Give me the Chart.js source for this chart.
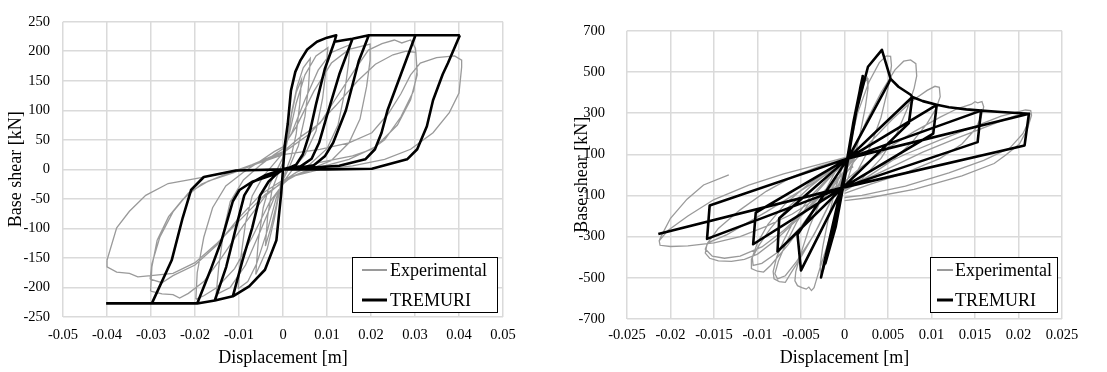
<!DOCTYPE html>
<html><head><meta charset="utf-8">
<script src="https://cdn.jsdelivr.net/npm/chart.js@4.4.1/dist/chart.umd.min.js"></script>
<style>
html,body{margin:0;padding:0;background:#fff;width:1107px;height:372px;overflow:hidden}
#c1{position:absolute;left:0;top:0}
#c2{position:absolute;left:560px;top:0}
</style></head><body>
<canvas id="c1" width="560" height="372"></canvas>
<canvas id="c2" width="547" height="372"></canvas>
<script>
// ---------- DATA ----------
const seriesNames = ['Experimental', 'TREMURI'];
const xTitle = 'Displacement [m]';
const yTitle = 'Base shear [kN]';

const leftXTicks = [-0.05,-0.04,-0.03,-0.02,-0.01,0,0.01,0.02,0.03,0.04,0.05];
const leftYTicks = [-250,-200,-150,-100,-50,0,50,100,150,200,250];
const rightXTicks = [-0.025,-0.02,-0.015,-0.01,-0.005,0,0.005,0.01,0.015,0.02,0.025];
const rightYTicks = [-700,-500,-300,-100,100,300,500,700];

// Left panel – experimental cycles [displacement m, base shear kN]
const leftExpCycle1 = [[-0.004,-130],[-0.0035,-80],[-0.0025,-35],[-0.001,-5],[0,12],[0.001,48],[0.002,95],[0.003,130],[0.0042,152],[0.0038,110],[0.003,60],[0.0018,20],[0.0005,-5],[-0.0005,-25],[-0.0015,-60],[-0.0028,-100],[-0.004,-130]];
const leftExpCycle2 = [[-0.0062,-178],[-0.0056,-120],[-0.0045,-65],[-0.003,-25],[-0.001,5],[0,20],[0.001,52],[0.002,98],[0.0032,140],[0.0046,172],[0.0062,188],[0.0058,140],[0.005,90],[0.0035,40],[0.0015,5],[0,-18],[-0.001,-45],[-0.002,-85],[-0.0036,-135],[-0.0062,-178]];
const leftExpCycle3 = [[-0.0102,-202],[-0.0096,-150],[-0.0085,-90],[-0.007,-45],[-0.0045,-12],[-0.002,10],[0,28],[0.0015,62],[0.003,112],[0.005,160],[0.0075,192],[0.0102,206],[0.0098,170],[0.009,120],[0.0075,65],[0.005,25],[0.002,-2],[0,-22],[-0.0015,-48],[-0.0035,-102],[-0.006,-160],[-0.008,-190],[-0.0102,-202]];
const leftExpCycle4 = [[-0.0152,-212],[-0.0146,-165],[-0.0135,-105],[-0.012,-55],[-0.009,-18],[-0.005,8],[-0.002,25],[0,35],[0.002,62],[0.005,118],[0.008,168],[0.011,198],[0.0152,211],[0.0149,180],[0.014,130],[0.0125,75],[0.01,35],[0.006,8],[0.002,-10],[0,-25],[-0.002,-48],[-0.005,-102],[-0.0085,-162],[-0.012,-200],[-0.0152,-212]];
const leftExpCycle5 = [[-0.0198,-220],[-0.0195,-175],[-0.018,-115],[-0.016,-65],[-0.013,-28],[-0.009,-5],[-0.005,15],[-0.002,30],[0,38],[0.003,72],[0.007,132],[0.011,180],[0.015,203],[0.0198,212],[0.0198,185],[0.019,140],[0.0175,85],[0.015,45],[0.011,15],[0.006,0],[0.002,-12],[0,-25],[-0.003,-55],[-0.007,-115],[-0.011,-168],[-0.015,-200],[-0.018,-214],[-0.0198,-220]];
const leftExpCycle6 = [[-0.0301,-206],[-0.0298,-165],[-0.0286,-120],[-0.026,-80],[-0.0227,-50],[-0.0185,-25],[-0.013,-8],[-0.007,8],[0,30],[0.004,55],[0.0084,78],[0.012,120],[0.016,165],[0.0194,202],[0.0225,213],[0.0253,219],[0.027,214],[0.029,219],[0.0301,205],[0.0305,167],[0.0297,133],[0.0268,89],[0.0231,50],[0.0202,34],[0.0158,23],[0.0084,12],[0.003,-5],[0,-20],[-0.004,-45],[-0.009,-95],[-0.014,-150],[-0.018,-190],[-0.0215,-210],[-0.0235,-218],[-0.025,-212],[-0.0275,-211],[-0.0301,-206]];
const leftExpCycle7 = [[-0.0302,-186],[-0.0298,-160],[-0.028,-115],[-0.025,-72],[-0.0215,-40],[-0.017,-20],[-0.011,-5],[-0.005,12],[0,28],[0.006,60],[0.012,108],[0.017,150],[0.021,178],[0.025,194],[0.028,200],[0.0302,198],[0.0305,160],[0.029,118],[0.026,75],[0.021,38],[0.015,17],[0.008,3],[0.002,-12],[0,-18],[-0.005,-42],[-0.01,-82],[-0.015,-128],[-0.02,-162],[-0.025,-180],[-0.0275,-192],[-0.0302,-186]];
const leftExpCycle8 = [[-0.04,-154],[-0.0378,-99],[-0.0349,-71],[-0.0312,-44],[-0.0261,-24],[-0.018,-13],[-0.011,-2],[-0.005,12],[0,25],[0.0084,34],[0.015,45],[0.0202,62],[0.024,95],[0.0268,128],[0.029,160],[0.0312,180],[0.0349,189],[0.039,192],[0.0406,185],[0.0406,173],[0.04,129],[0.0378,96],[0.0341,62],[0.029,34],[0.0231,17],[0.0158,6],[0.0085,0],[0.003,-10],[0,-22],[-0.004,-42],[-0.009,-80],[-0.015,-125],[-0.02,-158],[-0.025,-176],[-0.03,-180],[-0.033,-182],[-0.0349,-176],[-0.0378,-174],[-0.04,-165],[-0.04,-154]];

// Left panel – TREMURI branches
const leftTremPosEnvelope = [[0,0],[0.0004,40],[0.0011,78],[0.0018,133],[0.0028,165],[0.004,185],[0.0055,203],[0.0077,216],[0.01,223],[0.0121,227],[0.0117,216],[0.014,219],[0.0158,221],[0.0195,227],[0.0301,227],[0.0402,227]];
const leftTremUnload1 = [[0.0117,216],[0.0095,170],[0.0075,110],[0.006,60],[0.0045,25],[0.003,8],[0.0015,3],[0,0]];
const leftTremUnload2 = [[0.0158,221],[0.0128,161],[0.0099,89],[0.0082,45],[0.0065,18],[0.004,5],[0,0]];
const leftTremUnload3 = [[0.0195,227],[0.0172,183],[0.0143,100],[0.0114,45],[0.0095,22],[0.007,7],[0.003,2],[0,0]];
const leftTremUnload4 = [[0.0301,227],[0.0268,161],[0.0238,101],[0.0224,62],[0.0209,34],[0.0187,17],[0.0128,6],[0.005,2],[0,0]];
const leftTremUnload5 = [[0.0402,227],[0.0375,180],[0.0363,161],[0.0341,117],[0.0327,73],[0.0305,34],[0.0282,17],[0.0202,1],[0.01,0],[0,0]];
const leftTremNegEnvelope = [[0,0],[-0.0004,-40],[-0.0015,-120],[-0.0041,-170],[-0.0077,-198],[-0.0114,-215],[-0.0155,-222],[-0.0195,-227],[-0.0298,-227],[-0.0402,-227]];
const leftTremNeg1 = [[-0.0298,-227],[-0.0253,-154],[-0.0228,-82],[-0.0209,-35],[-0.018,-13],[-0.0107,-2],[0,0]];
const leftTremNeg2 = [[-0.0195,-227],[-0.0165,-171],[-0.014,-121],[-0.0114,-54],[-0.0099,-35],[-0.007,-21],[-0.0026,-10],[0,0]];
const leftTremNeg3 = [[-0.0155,-222],[-0.0129,-165],[-0.0107,-99],[-0.0088,-44],[-0.007,-22],[-0.004,-10],[0,0]];
const leftTremNeg4 = [[-0.0114,-215],[-0.0092,-154],[-0.007,-99],[-0.0052,-44],[-0.0033,-21],[-0.0015,-8],[0,0]];

// Right panel – experimental cycles
const rightExpPos1 = [[-0.0003,-40],[0.0005,100],[0.0012,260],[0.0018,380],[0.0023,450],[0.0026,470],[0.0027,420],[0.0024,330],[0.0018,200],[0.001,60],[0.0003,-30],[-0.0003,-40]];
const rightExpPos2 = [[-0.0005,-50],[0.0005,120],[0.0015,300],[0.0028,450],[0.004,545],[0.0048,578],[0.0053,575],[0.0054,530],[0.005,420],[0.0042,280],[0.003,140],[0.0015,20],[0,-60]];
const rightExpPos3 = [[-0.0005,-55],[0.001,110],[0.0025,260],[0.0042,400],[0.0058,510],[0.0068,552],[0.0076,558],[0.0082,540],[0.0083,480],[0.008,420],[0.0072,320],[0.006,200],[0.0042,80],[0.002,-20],[0,-70]];
const rightExpPos4 = [[-0.0008,-60],[0.001,60],[0.003,160],[0.0055,270],[0.0078,360],[0.0095,410],[0.0104,430],[0.0109,425],[0.011,380],[0.0105,320],[0.0095,250],[0.0078,160],[0.0055,70],[0.003,0],[0,-80]];
const rightExpPos5 = [[-0.001,-70],[0.002,40],[0.005,130],[0.008,210],[0.011,280],[0.013,322],[0.0146,343],[0.015,355],[0.0153,350],[0.0158,356],[0.016,330],[0.0157,280],[0.015,220],[0.0135,150],[0.011,80],[0.007,10],[0.003,-45],[0,-90]];
const rightExpPos6 = [[-0.001,-80],[0.003,20],[0.007,100],[0.011,170],[0.015,235],[0.018,285],[0.0198,305],[0.0208,315],[0.0214,312],[0.0215,290],[0.021,220],[0.0201,150],[0.0185,95],[0.0172,55],[0.0135,-5],[0.008,-70],[0.003,-110],[0,-125]];
const rightExpPos7 = [[-0.001,-90],[0.004,10],[0.009,110],[0.013,180],[0.017,245],[0.0195,285],[0.0207,300],[0.0213,295],[0.0212,260],[0.0205,200],[0.019,130],[0.016,70],[0.012,10],[0.007,-55],[0.002,-100],[0,-110]];
const rightExpNeg1 = [[0.0003,40],[-0.0005,-100],[-0.0012,-250],[-0.0019,-380],[-0.0024,-460],[-0.0027,-480],[-0.0028,-440],[-0.0025,-350],[-0.0018,-200],[-0.001,-60],[-0.0003,30]];
const rightExpNeg2 = [[0.0003,60],[-0.0008,-150],[-0.0018,-320],[-0.0028,-450],[-0.0033,-520],[-0.0035,-548],[-0.0038,-562],[-0.0041,-545],[-0.0044,-555],[-0.0049,-548],[-0.0054,-538],[-0.0057,-515],[-0.0056,-470],[-0.005,-380],[-0.004,-250],[-0.0025,-100],[-0.001,20],[0.0003,60]];
const rightExpNeg3 = [[0.0005,70],[-0.001,-80],[-0.003,-250],[-0.005,-400],[-0.0062,-480],[-0.0068,-522],[-0.0075,-518],[-0.0081,-505],[-0.0082,-470],[-0.0078,-400],[-0.007,-320],[-0.0058,-220],[-0.004,-110],[-0.002,-20],[0.0005,70]];
const rightExpNeg3b = [[0.0005,60],[-0.0015,-120],[-0.0035,-290],[-0.0055,-420],[-0.0068,-490],[-0.0077,-505],[-0.008,-480],[-0.0076,-420],[-0.0068,-340],[-0.0055,-230],[-0.0035,-100],[-0.001,20],[0.0005,60]];
const rightExpNeg4 = [[0.001,80],[-0.001,-40],[-0.004,-200],[-0.0065,-340],[-0.0085,-440],[-0.0093,-472],[-0.01,-468],[-0.0107,-455],[-0.0107,-410],[-0.0098,-340],[-0.0085,-260],[-0.0065,-160],[-0.004,-60],[-0.001,40],[0.001,80]];
const rightExpNeg4b = [[0.001,70],[-0.002,-80],[-0.005,-250],[-0.0078,-380],[-0.0095,-430],[-0.0105,-440],[-0.0106,-400],[-0.01,-330],[-0.0088,-240],[-0.0068,-140],[-0.004,-40],[-0.001,40],[0.001,70]];
const rightExpNeg5 = [[0.001,90],[-0.003,40],[-0.006,-10],[-0.009,-80],[-0.012,-170],[-0.0145,-260],[-0.0158,-335],[-0.016,-380],[-0.0155,-405],[-0.0145,-418],[-0.013,-420],[-0.0115,-410],[-0.01,-385],[-0.008,-320],[-0.006,-240],[-0.004,-160],[-0.002,-70],[0,10]];
const rightExpNeg5b = [[0.001,85],[-0.004,-50],[-0.009,-180],[-0.0135,-290],[-0.0157,-330],[-0.016,-360],[-0.0152,-395],[-0.0138,-405],[-0.012,-395],[-0.0095,-350],[-0.007,-270],[-0.004,-150],[-0.001,-20],[0.001,40]];
const rightExpNeg6 = [[0.001,95],[-0.003,50],[-0.007,5],[-0.011,-50],[-0.015,-120],[-0.018,-200],[-0.0203,-270],[-0.0213,-320],[-0.0212,-342],[-0.02,-348],[-0.018,-345],[-0.015,-330],[-0.012,-300],[-0.009,-250],[-0.006,-190],[-0.003,-110],[0,-30]];
const rightExpTail = [[-0.0213,-320],[-0.0211,-300],[-0.02,-211],[-0.0181,-118],[-0.0162,-49],[-0.0133,0]];

// Right panel – TREMURI branches
const rightTremInitial = [[0,0],[0.001,250],[0.0021,480],[0.0018,420],[0.0001,0],[-0.001,-250],[-0.0022,-430],[-0.0019,-370],[0.0004,80]];
const rightTremPeak = [[0,0],[0.0013,300],[0.0027,525],[0.0043,607],[0.0053,466]];
const rightTremEnvelope = [[0.0053,466],[0.0062,428],[0.0076,389],[0.0078,378],[0.009,358],[0.0106,340],[0.012,328],[0.014,318],[0.0157,312],[0.018,305],[0.0212,297]];
const rightTremUnload1 = [[0.0053,466],[0.005,440],[0.0004,80]];
const rightTremPos2 = [[0.0004,80],[0.0078,378],[0.0074,251],[-0.0002,-62]];
const rightTremPos3 = [[0.0004,80],[0.0106,340],[0.0102,200],[-0.0002,-62]];
const rightTremPos4 = [[0.0004,80],[0.0157,312],[0.0153,159],[-0.0002,-62]];
const rightTremPos5 = [[0.0004,80],[0.0212,297],[0.0207,143],[-0.0002,-62]];
const rightTremNeg1 = [[-0.0002,-62],[-0.0027,-498],[-0.0023,-420],[0.0004,80]];
const rightTremNeg2 = [[0.0004,80],[-0.0054,-290],[-0.005,-464],[-0.0002,-62]];
const rightTremNeg3 = [[-0.0002,-62],[-0.0077,-372],[-0.0075,-211],[0.0004,80]];
const rightTremNeg4 = [[-0.0002,-62],[-0.0105,-337],[-0.0102,-183],[0.0004,80]];
const rightTremNeg5 = [[-0.0002,-62],[-0.0158,-311],[-0.0155,-149],[0.0004,80]];
const rightTremNeg6 = [[-0.0002,-62],[-0.0214,-287]];

// ---------- BUILD ----------
const FONT = "'Liberation Serif', 'Times New Roman', serif";
Chart.defaults.font.family = FONT;

function toPoints(paths){
  const out = [];
  paths.forEach((p, i) => {
    if (i > 0) out.push({x: null, y: null});
    p.forEach(([x, y]) => out.push({x, y}));
  });
  return out;
}

const boxLegend = {
  id: 'boxLegend',
  afterDraw(chart, args, o) {
    const ctx = chart.ctx;
    ctx.save();
    ctx.fillStyle = '#fff';
    ctx.fillRect(o.x, o.y, o.w, o.h);
    ctx.strokeStyle = '#000';
    ctx.lineWidth = 1;
    ctx.strokeRect(o.x + 0.5, o.y + 0.5, o.w, o.h);
    chart.data.datasets.forEach((d, i) => {
      const yy = o.y + o.rows[i];
      ctx.strokeStyle = d.borderColor;
      ctx.lineWidth = o.lw[i];
      ctx.beginPath();
      ctx.moveTo(o.lx0, yy);
      ctx.lineTo(o.lx1, yy);
      ctx.stroke();
      ctx.fillStyle = '#000';
      ctx.font = '18px ' + FONT;
      ctx.textBaseline = 'middle';
      ctx.textAlign = 'left';
      ctx.fillText(d.label, o.tx, yy + 1);
    });
    ctx.restore();
  }
};

function makeChart(id, cfg) {
  const gridOpts = {color: '#dadada', lineWidth: 1.5, drawTicks: false};
  return new Chart(document.getElementById(id), {
    type: 'scatter',
    data: {
      datasets: [
        {label: seriesNames[0], data: toPoints(cfg.exp), showLine: true, borderColor: '#9a9a9a', borderWidth: 1.3, pointRadius: 0, pointHoverRadius: 0, order: 2, spanGaps: false},
        {label: seriesNames[1], data: toPoints(cfg.trem), showLine: true, borderColor: '#000000', borderWidth: 2.6, pointRadius: 0, pointHoverRadius: 0, order: 1, spanGaps: false, borderJoinStyle: 'round'}
      ]
    },
    options: {
      responsive: false,
      animation: false,
      events: [],
      layout: {padding: {left: 0, right: cfg.padRight, top: 16, bottom: 0}},
      plugins: {legend: {display: false}, tooltip: {enabled: false}, boxLegend: cfg.legend},
      scales: {
        x: {
          type: 'linear', min: cfg.xTicks[0], max: cfg.xTicks[cfg.xTicks.length - 1],
          afterBuildTicks: s => { s.ticks = cfg.xTicks.map(v => ({value: v})); },
          afterFit: s => { s.height = cfg.xHeight; },
          grid: gridOpts, border: {display: false},
          ticks: {padding: cfg.xTickPad, color: '#000', font: {size: 14.5}, maxRotation: 0, autoSkip: false, callback: v => String(v)},
          title: {display: true, text: xTitle, color: '#000', font: {size: 18}, padding: {top: 0, bottom: 3}}
        },
        y: {
          type: 'linear', min: cfg.yTicks[0], max: cfg.yTicks[cfg.yTicks.length - 1],
          afterBuildTicks: s => { s.ticks = cfg.yTicks.map(v => ({value: v})); },
          afterFit: s => { s.width = cfg.yWidth; },
          grid: gridOpts, border: {display: false},
          ticks: {padding: cfg.yTickPad, color: '#000', font: {size: 14.5}, autoSkip: false, callback: v => String(v)},
          title: {display: true, text: yTitle, color: '#000', font: {size: 18}, padding: {top: cfg.yTitlePad, bottom: 0}}
        }
      }
    },
    plugins: [boxLegend]
  });
}

makeChart('c1', {
  exp: [leftExpCycle1, leftExpCycle2, leftExpCycle3, leftExpCycle4, leftExpCycle5, leftExpCycle6, leftExpCycle7, leftExpCycle8],
  trem: [leftTremPosEnvelope, leftTremUnload1, leftTremUnload2, leftTremUnload3, leftTremUnload4, leftTremUnload5, leftTremNegEnvelope, leftTremNeg1, leftTremNeg2, leftTremNeg3, leftTremNeg4],
  xTicks: leftXTicks, yTicks: leftYTicks,
  padRight: 57, yWidth: 63, yTickPad: 13, yTitlePad: 5, xHeight: 55, xTickPad: 9,
  legend: {x: 352, y: 257, w: 145, h: 55, rows: [13, 43], lw: [2, 3], lx0: 362, lx1: 387, tx: 390}
});

makeChart('c2', {
  exp: [rightExpPos1, rightExpPos2, rightExpPos3, rightExpPos4, rightExpPos5, rightExpPos6, rightExpPos7, rightExpNeg1, rightExpNeg2, rightExpNeg3, rightExpNeg3b, rightExpNeg4, rightExpNeg4b, rightExpNeg5, rightExpNeg5b, rightExpNeg6, rightExpTail],
  trem: [rightTremInitial, rightTremPeak, rightTremEnvelope, rightTremUnload1, rightTremPos2, rightTremPos3, rightTremPos4, rightTremPos5, rightTremNeg1, rightTremNeg2, rightTremNeg3, rightTremNeg4, rightTremNeg5, rightTremNeg6],
  xTicks: rightXTicks, yTicks: rightYTicks,
  padRight: 45, yWidth: 67, yTickPad: 22, yTitlePad: 11, xHeight: 53, xTickPad: 7,
  legend: {x: 370, y: 257, w: 127, h: 55, rows: [13, 43], lw: [2, 3], lx0: 377, lx1: 393, tx: 395}
});
</script>
</body></html>
